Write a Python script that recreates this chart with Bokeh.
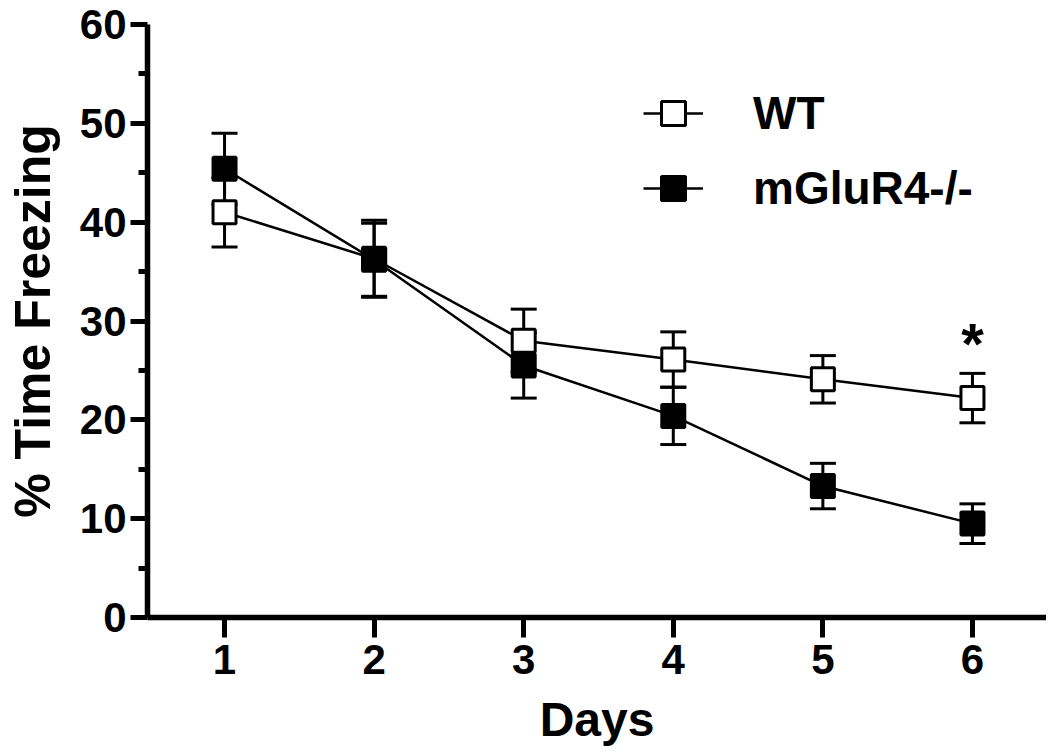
from bokeh.plotting import figure
from bokeh.models import (Range1d, Whisker, ColumnDataSource, Legend, LegendItem,
                          FixedTicker, TeeHead)
from bokeh.embed import file_html
from bokeh.resources import INLINE
from bokeh.core.properties import value

# ---- data ----
days = [1, 2, 3, 4, 5, 6]
wt_mean = [41.0, 36.3, 28.0, 26.1, 24.1, 22.2]
wt_sem = [3.5, 3.9, 3.2, 2.8, 2.4, 2.5]
ko_mean = [45.4, 36.2, 25.5, 20.4, 13.3, 9.5]
ko_sem = [3.6, 3.7, 3.3, 2.9, 2.3, 2.0]
series_names = ["WT", "mGluR4-/-"]
y_ticks = [0, 10, 20, 30, 40, 50, 60]
y_minor = [5, 15, 25, 35, 45, 55]
sig_days = [6]
sig_marks = ["*"]

FONT = "Liberation Sans"

wt = ColumnDataSource(dict(x=days, y=wt_mean,
                           upper=[m + s for m, s in zip(wt_mean, wt_sem)],
                           lower=[m - s for m, s in zip(wt_mean, wt_sem)]))
ko = ColumnDataSource(dict(x=days, y=ko_mean,
                           upper=[m + s for m, s in zip(ko_mean, ko_sem)],
                           lower=[m - s for m, s in zip(ko_mean, ko_sem)]))

p = figure(width=1046, height=749, x_range=Range1d(0.485, 6.495), y_range=Range1d(0, 60),
           output_backend="svg", toolbar_location=None,
           min_border_left=147, min_border_right=0, min_border_top=24, min_border_bottom=132)
p.outline_line_color = None
p.xgrid.grid_line_color = None
p.ygrid.grid_line_color = None
p.background_fill_color = "white"
p.border_fill_color = "white"

# lines
l_wt = p.line("x", "y", source=wt, line_color="black", line_width=2.5)
l_ko = p.line("x", "y", source=ko, line_color="black", line_width=2.5)

# markers
m_wt = p.scatter("x", "y", source=wt, marker="square", size=23, fill_color="white",
                 line_color="black", line_width=3)
m_ko = p.scatter("x", "y", source=ko, marker="square", size=23, fill_color="black",
                 line_color="black", line_width=3)

# error bars
for src in (wt, ko):
    w = Whisker(base="x", upper="upper", lower="lower", source=src,
                line_color="black", line_width=3,
                upper_head=TeeHead(size=26, line_color="black", line_width=3),
                lower_head=TeeHead(size=26, line_color="black", line_width=3))
    p.add_layout(w)

# significance marker
wt_upper_at = [wt_mean[days.index(d)] + wt_sem[days.index(d)] + 3.0 for d in sig_days]
p.text(x=sig_days, y=wt_upper_at, text=sig_marks, text_font=value(FONT),
       text_font_style="bold", text_font_size="58px", text_align="center",
       text_baseline="alphabetic", text_color="black")

# axes
for ax in (p.xaxis[0], p.yaxis[0]):
    ax.axis_line_width = 5.5
    ax.axis_line_color = "black"
    ax.major_tick_line_width = 5
    ax.minor_tick_line_width = 5
    ax.major_tick_line_color = "black"
    ax.minor_tick_line_color = "black"
    ax.major_tick_in = 0
    ax.minor_tick_in = 0
    ax.major_label_text_font = FONT
    ax.major_label_text_font_style = "bold"
    ax.major_label_text_font_size = "42px"
    ax.major_label_text_color = "black"
    ax.axis_label_text_font = FONT
    ax.axis_label_text_font_style = "bold"
    ax.axis_label_text_color = "black"

p.xaxis.ticker = FixedTicker(ticks=days)
p.xaxis.major_tick_out = 20
p.xaxis.minor_tick_out = 0
p.xaxis.major_label_standoff = 7
p.xaxis.axis_label = "Days"
p.xaxis.axis_label_text_font_size = "48px"
p.xaxis.axis_label_standoff = 16

p.yaxis.ticker = FixedTicker(ticks=y_ticks, minor_ticks=y_minor)
p.yaxis.major_tick_out = 17
p.yaxis.minor_tick_out = 9
p.yaxis.major_label_standoff = 4
p.yaxis.axis_label = "% Time Freezing"
p.yaxis.axis_label_text_font_size = "50px"
p.yaxis.axis_label_standoff = 16

legend = Legend(items=[LegendItem(label=series_names[0], renderers=[l_wt, m_wt]),
                       LegendItem(label=series_names[1], renderers=[l_ko, m_ko])],
                location=(496, 399), orientation="vertical",
                glyph_width=60, glyph_height=60, label_height=60, spacing=15,
                label_standoff=50, padding=0, margin=0,
                border_line_color=None, background_fill_alpha=0,
                label_text_font=FONT, label_text_font_style="bold",
                label_text_font_size="46px", label_text_color="black")
p.add_layout(legend)

open("out.html", "w").write(file_html(p, INLINE))
